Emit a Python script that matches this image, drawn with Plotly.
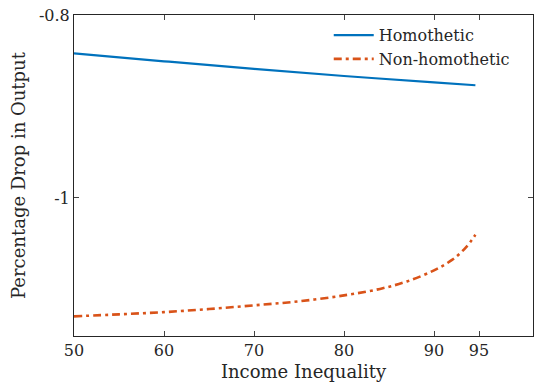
import plotly.graph_objects as go

inequality_homo = [50, 60, 70, 80, 90, 94.6]
drop_homo = [-0.8419, -0.8506, -0.8590, -0.8667, -0.8736, -0.8768]

inequality_non = [50, 55, 60, 65, 70, 75, 80, 84, 87, 90, 92, 93.5, 94.6]
drop_non = [-1.1295, -1.1273, -1.1249, -1.1215, -1.1175, -1.1131, -1.1066,
            -1.0995, -1.0913, -1.0792, -1.0678, -1.0546, -1.0404]

x_ticks = [50, 60, 70, 80, 90, 95]
y_ticks = [-0.8, -1.0]
y_tick_text = ["-0.8", "-1"]

FONT = "DejaVu Serif"
AX = "#262626"

fig = go.Figure()
fig.add_trace(go.Scatter(x=inequality_homo, y=drop_homo, mode="lines",
                         name="Homothetic",
                         line=dict(color="#0072BD", width=2.2, shape="spline")))
fig.add_trace(go.Scatter(x=inequality_non, y=drop_non, mode="lines",
                         name="Non-homothetic",
                         line=dict(color="#D95319", width=2.6, dash="8px,4px,3px,4px",
                                   shape="spline")))

fig.update_layout(
    width=534, height=385,
    margin=dict(l=74, r=1, t=15, b=49),
    paper_bgcolor="white", plot_bgcolor="white",
    font=dict(family=FONT, size=16, color=AX),
    showlegend=True,
    legend=dict(x=0.555, y=0.99, xanchor="left", yanchor="top",
                bgcolor="rgba(0,0,0,0)", font=dict(size=16, family=FONT),
                tracegroupgap=0, itemwidth=40),
    xaxis=dict(range=[50, 101], tickvals=x_ticks, ticks="inside", ticklen=5,
               showline=True, linecolor=AX, linewidth=1, mirror="ticks",
               showgrid=False, zeroline=False, tickfont=dict(size=16, family=FONT),
               title=dict(text="Income Inequality", font=dict(size=18, family=FONT),
                          standoff=6)),
    yaxis=dict(range=[-1.151, -0.8], tickvals=y_ticks, ticktext=y_tick_text,
               ticks="inside", ticklen=5,
               showline=True, linecolor=AX, linewidth=1, mirror="ticks",
               showgrid=False, zeroline=False, tickfont=dict(size=16, family=FONT),
               title=dict(text="Percentage Drop in Output", font=dict(size=18, family=FONT),
                          standoff=8)),
)

fig.write_html("out.html")
